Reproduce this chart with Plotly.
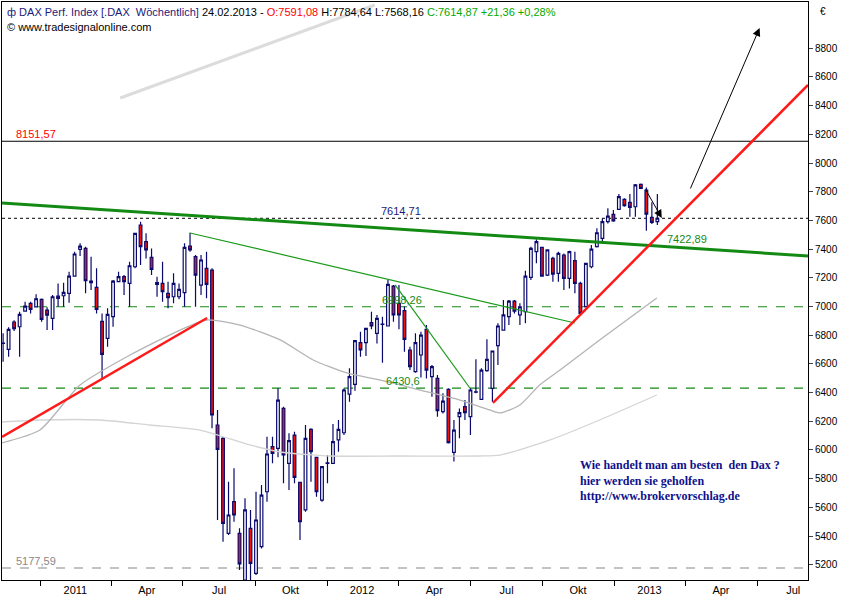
import pandas as pd
import plotly.graph_objects as go

opens = [6745,6701,6892,6859,6968,7022,6998,7050,6975,6917,7073,7075,7092,7212,7398,7405,7177,7133,6896,6778,
         6929,7173,7208,7161,7277,7568,7452,7342,7166,7161,7092,7068,7068,7096,7421,7347,7149,7266,7254,6174,
         6081,5419,5640,5419,5094,5454,5140,5326,5709,6023,6011,6290,5907,6104,5774,5582,6144,5949,5651,5907,
         5907,6070,6120,6390,6457,6748,6748,6887,6813,6875,6864,7142,7022,6971,6697,6546,6662,6841,6511,6499,
         6267,6422,5984,6232,6302,6232,6403,6353,6553,6429,6727,6836,6929,7038,6941,6964,7203,7382,7412,7219,
         7335,7231,7359,7196,7319,7161,6999,7277,7417,7475,7591,7642,7677,7747,7726,7695,7851,7812,7621,7591.08]
highs = [6813,6855,6905,6964,7033,7033,7085,7055,6994,7080,7161,7166,7242,7382,7440,7417,7347,7266,6952,6987,
         7184,7242,7219,7312,7514,7591,7510,7405,7208,7312,7173,7231,7161,7440,7514,7359,7359,7382,7266,6278,
         6088,5779,5872,5454,5663,5582,5709,5756,6093,6093,6430,6302,6116,6128,5779,6174,6151,5953,5888,5965,
         6181,6209,6430,6569,6766,6824,6852,6964,6940,6929,7184,7150,7150,7000,6720,6813,6824,6871,6592,6522,
         6395,6430,6209,6290,6348,6430,6632,6569,6771,6692,6883,7045,7045,7045,7022,7249,7417,7468,7417,7398,
         7347,7382,7370,7389,7382,7173,7305,7428,7545,7614,7684,7672,7784,7754,7784,7853,7858,7830,7726,7784.64]
lows = [6615,6650,6830,6650,6964,6952,6994,6894,6836,6836,6998,6998,7026,7208,7352,7092,7115,6952,6499,6720,
        6859,7173,7080,6998,7266,7289,7335,7219,7068,7033,6987,7022,7050,6998,7382,6998,7080,7057,6151,5512,
        5361,5407,5500,5163,5070,5070,5129,5314,5640,5907,5950,5768,5721,5768,5372,5570,5779,5674,5640,5768,
        5902,5988,6104,6337,6413,6650,6655,6841,6743,6608,6864,6894,6841,6685,6557,6539,6506,6499,6371,6232,
        6255,6046,5919,6081,6209,6104,6395,6348,6546,6337,6592,6836,6871,6952,6871,6883,7184,7301,7208,7212,
        7173,7173,7115,7126,7092,6952,6994,7266,7412,7452,7579,7591,7672,7695,7626,7626,7819,7528,7575,7568.16]
closes = [6742,6841,6845,6945,7003,6980,7054,6910,6940,7068,7057,7099,7212,7366,7421,7180,7166,6980,6666,6945,
          7177,7208,7173,7284,7510,7417,7394,7259,7154,7103,7061,7161,7119,7412,7394,7219,7324,7154,6244,6004,
          5489,5547,5547,5206,5582,5210,5512,5686,5972,5977,6348,5965,6065,5809,5500,6081,5988,5709,5884,5910,
          6058,6144,6418,6511,6762,6697,6848,6864,6917,6877,7154,6941,6941,6771,6581,6748,6801,6557,6581,6274,
          6341,6051,6139,6260,6260,6418,6406,6557,6632,6690,6864,6941,7038,6968,6998,7212,7405,7452,7212,7394,
          7226,7370,7196,7382,7161,6952,7301,7400,7514,7591,7630,7596,7765,7702,7691,7847,7823,7644,7586,7614.87]

last_week = "2013-02-24"
base = pd.Timestamp(last_week) - pd.Timedelta(weeks=len(closes) - 1)
dates = [base + pd.Timedelta(weeks=i) for i in range(len(closes))]
def d(w):
    return base + pd.Timedelta(days=7 * w)

ma1_w = [-0.2,6.7,14,23.1,32.2,37.1,43.1,50.4,56.4,62.5,68.5,75.8,83.1,88.5,90.4,94,97.6,101.3,108.5,118.9]
ma1_v = [6049,6139,6453,6662,6836,6906,6871,6767,6627,6537,6488,6418,6348,6279,6258,6314,6453,6557,6767,7059]
ma2_w = [-0.2,6.7,17.6,26.7,35.8,44.9,50.4,59.5,72.2,86.7,90.4,99.5,108.5,118.9]
ma2_v = [6195,6209,6209,6174,6139,6035,5986,5958,5958,5958,5965,6070,6209,6383]

# trend lines: (week, value) pairs
green_thick = [(-0.2, 7721), (146.4, 7352)]
green_thin1 = [(34, 7512), (104, 6885)]
green_thin2 = [(71.3, 7150), (84.9, 6432)]
red1 = [(-0.2, 6091), (37.1, 6920)]
red2 = [(89.1, 6328), (146.4, 8544)]
gray_diag = [(21.3, 8453), (67.6, 9101)]
arrow_big = [(124.9, 7812), (137.6, 8941)]
arrow_small = [(116.7, 7826), (119.8, 7617)]

levels = [8151.57, 7614.71, 6998.26, 6430.6, 5177.59]
level_text = ["8151,57", "7614,71", "6998,26", "6430,6", "5177,59"]

tick_vals = ["2011-02-14","2011-05-16","2011-08-16","2011-11-15","2012-02-14","2012-05-16",
             "2012-08-16","2012-11-15","2013-02-14","2013-05-16","2013-08-16"]
tick_text = ["2011","Apr","Jul","Okt","2012","Apr","Jul","Okt","2013","Apr","Jul"]
y_ticks = list(range(5200, 8801, 200))

FONT = "Liberation Sans"
fig = go.Figure()

def line(pts, color, width, dash=None):
    fig.add_trace(go.Scatter(x=[d(p[0]) for p in pts], y=[p[1] for p in pts], mode="lines",
                             line=dict(color=color, width=width, dash=dash), hoverinfo="skip"))

fig.add_trace(go.Scatter(x=[d(w) for w in ma2_w], y=ma2_v, mode="lines", line=dict(color="#d4d4d4", width=1.3, shape="spline", smoothing=0.6)))
fig.add_trace(go.Scatter(x=[d(w) for w in ma1_w], y=ma1_v, mode="lines", line=dict(color="#b4b4b4", width=1.3, shape="spline", smoothing=0.6)))
line(gray_diag, "#dcdcdc", 3)
line(green_thick, "#138a13", 3)
line(green_thin1, "#1a9a1a", 1.2)
line(green_thin2, "#1a9a1a", 1.2)
line(red1, "#ff1a1a", 2.5)
line(red2, "#ff1a1a", 2.5)

fig.add_trace(go.Candlestick(x=dates, open=opens, high=highs, low=lows, close=closes, whiskerwidth=0,
    increasing=dict(fillcolor="white", line=dict(color="#0a0a6e", width=1.2)),
    decreasing=dict(fillcolor="#ee1111", line=dict(color="#0a0a6e", width=1.2))))

styles = [("black", "solid", 1), ("black", "dot", 1), ("#138a13", "dash", 1.2), ("#138a13", "dash", 1.2), ("#888888", "dash", 1.2)]
for lv, (c, ds, w) in zip(levels, styles):
    fig.add_shape(type="line", xref="paper", x0=0, x1=1, y0=lv, y1=lv, line=dict(color=c, dash=ds, width=w), layer="below")

ann = [
    (d(2), levels[0], level_text[0], "#ff0000"),
    (d(68.4), levels[1], level_text[1], "#1a1a7a"),
    (d(68.6), levels[2], level_text[2], "#138a13"),
    (d(69.2), levels[3], level_text[3], "#138a13"),
    (d(2), levels[4], level_text[4], "#888888"),
    (d(120.4), 7422.89, "7422,89", "#138a13"),
]
for x, y, t, c in ann:
    fig.add_annotation(x=x, y=y, text=t, showarrow=False, xanchor="left", yanchor="bottom", yshift=-1,
                       font=dict(color=c, size=11, family=FONT))

for (a, b) in [arrow_big, arrow_small]:
    fig.add_annotation(x=d(b[0]), y=b[1], ax=d(a[0]), ay=a[1], axref="x", ayref="y", xref="x", yref="y",
                       showarrow=True, arrowhead=2, arrowsize=1.6, arrowwidth=1, arrowcolor="black", text="")

fig.add_annotation(xref="paper", yref="paper", x=0.004, y=0.997, xanchor="left", yanchor="top", showarrow=False,
    text="<span style='color:#1a1a7a'>ф DAX Perf. Index [.DAX  Wöchentlich]</span> 24.02.2013 - "
         "<span style='color:#ff0000'>O:7591,08</span> H:7784,64 L:7568,16 "
         "<span style='color:#00aa00'>C:7614,87 +21,36 +0,28%</span>",
    font=dict(size=11, family=FONT, color="black"))
fig.add_annotation(xref="paper", yref="paper", x=0.004, y=0.97, xanchor="left", yanchor="top", showarrow=False,
    text="© www.tradesignalonline.com", font=dict(size=11, family=FONT, color="black"))
fig.add_annotation(xref="paper", yref="paper", x=0.715, y=0.215, xanchor="left", yanchor="top", showarrow=False, align="left",
    text="<b>Wie handelt man am besten  den Dax ?<br>hier werden sie geholfen<br>http://www.brokervorschlag.de</b>",
    font=dict(size=12, family="Liberation Serif", color="#10108a"))
fig.add_annotation(xref="paper", yref="paper", x=1.012, y=0.997, xanchor="left", yanchor="top", showarrow=False,
    text="€", font=dict(size=10, family=FONT, color="black"))

fig.update_layout(
    width=850, height=600, margin=dict(l=2, r=42, t=2, b=20),
    paper_bgcolor="white", plot_bgcolor="white", showlegend=False,
    xaxis=dict(type="date", range=[d(-0.2), d(146.4)], rangeslider=dict(visible=False),
               tickvals=tick_vals, ticktext=tick_text, ticks="", showgrid=False,
               showline=True, linecolor="black", mirror=True,
               tickfont=dict(size=11, family=FONT, color="black"),
               minor=dict(ticks="outside", ticklen=5, tickcolor="black", dtick="M3", tick0="2011-01-01", showgrid=False)),
    yaxis=dict(side="right", range=[5094, 9122], tickvals=y_ticks, ticks="outside", ticklen=4,
               showgrid=False, showline=True, linecolor="black", mirror=True, zeroline=False,
               tickfont=dict(size=10, family=FONT, color="black")),
)
fig.write_html("out.html", config={"displayModeBar": False})
with open("out.html", encoding="utf-8") as f:
    html = f.read()
html = html.replace("<body>", '<body style="margin:0">', 1)
with open("out.html", "w", encoding="utf-8") as f:
    f.write(html)
